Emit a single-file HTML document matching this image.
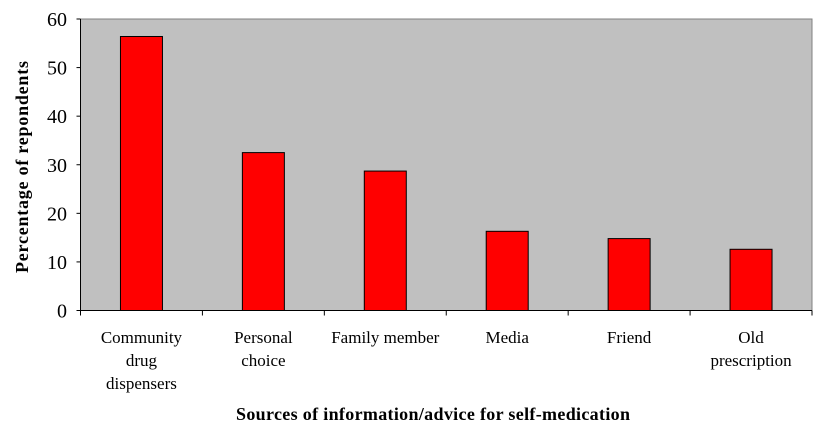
<!DOCTYPE html>
<html><head><meta charset="utf-8"><style>
body{margin:0;background:#fff;}
svg{display:block;font-family:"Liberation Serif",serif;}
</style></head><body>
<svg id="chart" width="817" height="436">
<rect x="80.5" y="19" width="731.5" height="291.5" fill="#c0c0c0" stroke="#808080" stroke-width="1"/>
<g id="axes"></g>
<g id="bars"></g>
<text x="433" y="420" text-anchor="middle" font-size="18" font-weight="bold" textLength="394" lengthAdjust="spacing">Sources of information/advice for self-medication</text>
<text transform="translate(28,167) rotate(-90)" text-anchor="middle" font-size="18" font-weight="bold" textLength="212" lengthAdjust="spacing">Percentage of repondents</text>
</svg>
<script>
const categories=[["Community","drug","dispensers"],["Personal","choice"],["Family member"],["Media"],["Friend"],["Old","prescription"]];
const values=[56.4,32.5,28.7,16.3,14.8,12.6];
const yTicks=[0,10,20,30,40,50,60];
const NS="http://www.w3.org/2000/svg";
const x0=80.5,x1=812,yTop=19,yBot=310.5,yMax=60;
const band=(x1-x0)/categories.length;
const yScale=v=>yBot-(v/yMax)*(yBot-yTop);
const xScale=i=>x0+band*i;
function mk(tag,attrs,parent){const e=document.createElementNS(NS,tag);for(const k in attrs)e.setAttribute(k,attrs[k]);parent.appendChild(e);return e;}
const axes=document.getElementById('axes'),bars=document.getElementById('bars');
const yl=mk('line',{x1:x0,y1:yTop,x2:x0,y2:yBot,stroke:'#000'},axes);


const xl=mk('line',{x1:x0,y1:yBot,x2:x1,y2:yBot,stroke:'#000'},axes);


yTicks.forEach(t=>{
  const y=yScale(t);
  const tk=mk('line',{x1:x0-4,y1:y,x2:x0,y2:y,stroke:'#000'},axes);
  
  
  const tx=mk('text',{x:67,y:y+7,'text-anchor':'end','font-size':'20'},axes);
  tx.textContent=t;
  
  
});
for(let i=0;i<=categories.length;i++){
  const x=xScale(i);
  const tk=mk('line',{x1:x,y1:yBot,x2:x,y2:yBot+5,stroke:'#000'},axes);
  
  
}
categories.forEach((c,i)=>{
  const cx=xScale(i)+band/2;
  const tx=mk('text',{x:cx,y:343,'text-anchor':'middle','font-size':'17'},axes);
  
  
  c.forEach((line,j)=>{const s=mk('tspan',{x:cx,dy:j?23:0},tx);s.textContent=line;});
  const bw=42;
  const y=yScale(values[i]);
  const r=mk('rect',{x:cx-bw/2,y:y,width:bw,height:yBot-y,fill:'#ff0000',stroke:'#000','stroke-width':'1'},bars);
  
  
});
</script>
</body></html>
